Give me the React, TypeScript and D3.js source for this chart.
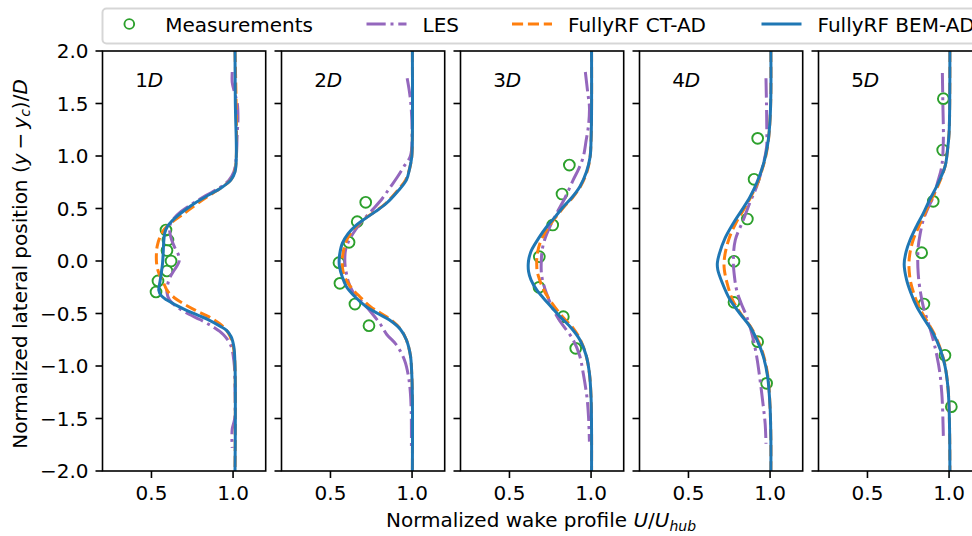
import React from "react";
import * as d3 from "d3";

// ---------- data: [y/D, U/Uhub] ----------
const panelLabels = ["1", "2", "3", "4", "5"];
const xTicks = [0.5, 1.0];
const yTicks = [2.0, 1.5, 1.0, 0.5, 0.0, -0.5, -1.0, -1.5, -2.0];
const legendLabels = ["Measurements", "LES", "FullyRF CT-AD", "FullyRF BEM-AD"];

const meas1D: [number, number][] = [[0.295, 0.589], [0.2, 0.601], [0.1, 0.595], [0.0, 0.62], [-0.095, 0.595], [-0.19, 0.54], [-0.295, 0.528]];
const meas2D: [number, number][] = [[0.559, 0.716], [0.375, 0.664], [0.178, 0.614], [-0.016, 0.552], [-0.213, 0.558], [-0.41, 0.65], [-0.616, 0.736]];
const meas3D: [number, number][] = [[0.914, 0.867], [0.638, 0.822], [0.343, 0.765], [0.041, 0.683], [-0.251, 0.681], [-0.53, 0.83], [-0.832, 0.906]];
const meas4D: [number, number][] = [[1.168, 0.924], [0.778, 0.902], [0.4, 0.861], [-0.003, 0.779], [-0.394, 0.779], [-0.768, 0.924], [-1.165, 0.979]];
const meas5D: [number, number][] = [[1.546, 0.965], [1.057, 0.961], [0.568, 0.903], [0.079, 0.832], [-0.41, 0.846], [-0.898, 0.975], [-1.387, 1.014]];

const les1D: [number, number][] = [[1.8, 0.995], [1.7, 0.995], [1.6, 1.01], [1.5, 1.026], [1.35, 1.03], [1.2, 1.025], [1.0, 1.02], [0.85, 1.005], [0.77, 0.975], [0.7, 0.92], [0.62, 0.83], [0.54, 0.745], [0.47, 0.68], [0.41, 0.64], [0.35, 0.615], [0.28, 0.612], [0.2, 0.624], [0.12, 0.645], [0.06, 0.665], [0.0, 0.67], [-0.05, 0.655], [-0.1, 0.634], [-0.16, 0.612], [-0.22, 0.6], [-0.3, 0.595], [-0.37, 0.61], [-0.43, 0.65], [-0.49, 0.71], [-0.56, 0.8], [-0.63, 0.88], [-0.7, 0.94], [-0.8, 0.985], [-0.95, 1.005], [-1.2, 1.012], [-1.5, 1.01], [-1.6, 0.995], [-1.7, 0.993], [-1.78, 0.995]];
const les2D: [number, number][] = [[1.74, 0.97], [1.6, 0.985], [1.45, 0.995], [1.2, 1.0], [1.0, 0.99], [0.9, 0.95], [0.8, 0.91], [0.7, 0.865], [0.6, 0.82], [0.5, 0.765], [0.4, 0.705], [0.3, 0.655], [0.2, 0.615], [0.1, 0.592], [0.0, 0.588], [-0.05, 0.59], [-0.12, 0.598], [-0.2, 0.61], [-0.3, 0.64], [-0.4, 0.7], [-0.5, 0.755], [-0.6, 0.805], [-0.7, 0.845], [-0.8, 0.905], [-0.95, 0.955], [-1.1, 0.978], [-1.26, 0.99], [-1.45, 0.995], [-1.6, 0.996], [-1.8, 0.996]];
const les3D: [number, number][] = [[1.8, 0.965], [1.6, 0.98], [1.47, 0.99], [1.3, 0.985], [1.15, 0.97], [0.99, 0.952], [0.88, 0.925], [0.77, 0.89], [0.6, 0.84], [0.454, 0.789], [0.327, 0.748], [0.2, 0.715], [0.1, 0.7], [0.0, 0.695], [-0.1, 0.695], [-0.2, 0.705], [-0.3, 0.725], [-0.4, 0.75], [-0.55, 0.8], [-0.75, 0.89], [-0.9, 0.93], [-1.07, 0.952], [-1.3, 0.975], [-1.5, 0.985], [-1.72, 0.99]];
const les4D: [number, number][] = [[1.74, 0.975], [1.5, 0.978], [1.25, 0.98], [1.09, 0.979], [0.9, 0.955], [0.71, 0.918], [0.55, 0.875], [0.39, 0.836], [0.2, 0.787], [0.0, 0.775], [-0.15, 0.782], [-0.276, 0.795], [-0.4, 0.822], [-0.53, 0.857], [-0.7, 0.89], [-0.91, 0.918], [-1.15, 0.94], [-1.39, 0.959], [-1.55, 0.97], [-1.74, 0.975]];
const les5D: [number, number][] = [[1.79, 0.959], [1.5, 0.962], [1.15, 0.965], [0.9, 0.955], [0.75, 0.93], [0.61, 0.903], [0.5, 0.87], [0.39, 0.842], [0.25, 0.822], [0.136, 0.811], [0.0, 0.808], [-0.12, 0.811], [-0.25, 0.82], [-0.435, 0.842], [-0.6, 0.875], [-0.752, 0.903], [-0.9, 0.925], [-1.07, 0.944], [-1.25, 0.955], [-1.39, 0.96], [-1.55, 0.963], [-1.67, 0.965]];

const ct1D: [number, number][] = [[2.0, 1.012], [1.0, 1.02], [0.85, 1.01], [0.77, 0.985], [0.7, 0.93], [0.6, 0.83], [0.5, 0.74], [0.43, 0.68], [0.37, 0.625], [0.3, 0.578], [0.22, 0.55], [0.14, 0.535], [0.05, 0.53], [-0.03, 0.532], [-0.1, 0.542], [-0.17, 0.56], [-0.23, 0.58], [-0.29, 0.6], [-0.35, 0.64], [-0.41, 0.7], [-0.47, 0.77], [-0.53, 0.85], [-0.6, 0.92], [-0.67, 0.965], [-0.75, 0.99], [-0.85, 1.005], [-1.0, 1.012], [-2.0, 1.012]];
const ct2D: [number, number][] = [[2.0, 1.002], [1.2, 1.002], [0.99, 0.998], [0.88, 0.985], [0.77, 0.96], [0.66, 0.905], [0.55, 0.84], [0.47, 0.772], [0.39, 0.7], [0.3, 0.64], [0.2, 0.6], [0.1, 0.58], [0.0, 0.572], [-0.08, 0.575], [-0.16, 0.59], [-0.25, 0.625], [-0.34, 0.68], [-0.435, 0.745], [-0.5, 0.81], [-0.56, 0.87], [-0.65, 0.93], [-0.75, 0.965], [-0.9, 0.99], [-1.07, 0.998], [-1.3, 1.002], [-2.0, 1.002]];
const ct3D: [number, number][] = [[2.0, 1.003], [1.4, 1.003], [1.15, 1.0], [0.99, 0.994], [0.85, 0.975], [0.71, 0.935], [0.6, 0.885], [0.517, 0.835], [0.42, 0.785], [0.327, 0.74], [0.22, 0.7], [0.105, 0.675], [0.03, 0.668], [-0.03, 0.667], [-0.1, 0.67], [-0.18, 0.685], [-0.276, 0.71], [-0.4, 0.76], [-0.53, 0.825], [-0.64, 0.89], [-0.752, 0.935], [-0.9, 0.97], [-1.07, 0.99], [-1.3, 1.0], [-1.6, 1.003], [-2.0, 1.003]];
const ct4D: [number, number][] = [[2.0, 1.005], [1.6, 1.005], [1.35, 1.0], [1.15, 0.99], [1.0, 0.974], [0.9, 0.957], [0.75, 0.925], [0.61, 0.882], [0.48, 0.835], [0.36, 0.79], [0.22, 0.75], [0.073, 0.725], [-0.02, 0.718], [-0.086, 0.72], [-0.2, 0.735], [-0.37, 0.77], [-0.5, 0.82], [-0.625, 0.88], [-0.77, 0.93], [-0.91, 0.962], [-1.1, 0.987], [-1.39, 1.0], [-1.7, 1.005], [-2.0, 1.005]];
const ct5D: [number, number][] = [[2.0, 1.005], [1.5, 1.004], [1.216, 1.0], [1.05, 0.99], [0.898, 0.975], [0.71, 0.93], [0.58, 0.89], [0.454, 0.852], [0.33, 0.815], [0.2, 0.78], [0.09, 0.762], [-0.03, 0.754], [-0.18, 0.762], [-0.3, 0.782], [-0.435, 0.815], [-0.56, 0.86], [-0.689, 0.908], [-0.85, 0.95], [-1.0, 0.976], [-1.2, 0.993], [-1.39, 1.0], [-1.7, 1.004], [-2.0, 1.005]];

const bem1D: [number, number][] = [[2.0, 1.012], [1.5, 1.014], [1.0, 1.02], [0.85, 1.012], [0.77, 0.986], [0.7, 0.93], [0.61, 0.83], [0.55, 0.765], [0.49, 0.71], [0.43, 0.66], [0.38, 0.625], [0.33, 0.598], [0.27, 0.582], [0.18, 0.575], [0.08, 0.572], [-0.02, 0.568], [-0.12, 0.56], [-0.2, 0.552], [-0.28, 0.545], [-0.33, 0.56], [-0.37, 0.592], [-0.42, 0.65], [-0.47, 0.715], [-0.52, 0.79], [-0.56, 0.85], [-0.62, 0.92], [-0.66, 0.96], [-0.72, 0.988], [-0.82, 1.005], [-1.0, 1.012], [-1.5, 1.014], [-2.0, 1.012]];
const bem2D: [number, number][] = [[2.0, 1.002], [1.2, 1.002], [0.99, 0.998], [0.88, 0.985], [0.77, 0.965], [0.66, 0.91], [0.55, 0.843], [0.47, 0.775], [0.39, 0.7], [0.33, 0.65], [0.26, 0.608], [0.17, 0.573], [0.07, 0.557], [0.0, 0.553], [-0.05, 0.555], [-0.15, 0.572], [-0.245, 0.598], [-0.34, 0.65], [-0.435, 0.72], [-0.5, 0.79], [-0.56, 0.86], [-0.65, 0.928], [-0.75, 0.965], [-0.9, 0.99], [-1.07, 0.998], [-1.3, 1.002], [-2.0, 1.002]];
const bem3D: [number, number][] = [[2.0, 1.003], [1.4, 1.003], [1.15, 1.0], [0.99, 0.994], [0.85, 0.972], [0.71, 0.932], [0.6, 0.88], [0.517, 0.83], [0.42, 0.78], [0.327, 0.728], [0.22, 0.68], [0.105, 0.636], [0.03, 0.62], [-0.03, 0.615], [-0.1, 0.617], [-0.18, 0.632], [-0.276, 0.667], [-0.4, 0.735], [-0.53, 0.81], [-0.64, 0.88], [-0.752, 0.932], [-0.9, 0.97], [-1.07, 0.99], [-1.3, 1.0], [-1.6, 1.003], [-2.0, 1.003]];
const bem4D: [number, number][] = [[2.0, 1.005], [1.6, 1.005], [1.35, 1.0], [1.15, 0.989], [1.0, 0.972], [0.9, 0.955], [0.75, 0.92], [0.61, 0.877], [0.48, 0.825], [0.36, 0.775], [0.22, 0.725], [0.073, 0.69], [-0.02, 0.677], [-0.086, 0.68], [-0.2, 0.705], [-0.37, 0.755], [-0.5, 0.815], [-0.625, 0.877], [-0.77, 0.925], [-0.91, 0.959], [-1.1, 0.985], [-1.39, 1.0], [-1.7, 1.005], [-2.0, 1.005]];
const bem5D: [number, number][] = [[2.0, 1.005], [1.5, 1.004], [1.216, 1.0], [1.05, 0.99], [0.898, 0.975], [0.71, 0.924], [0.58, 0.88], [0.454, 0.842], [0.33, 0.8], [0.2, 0.761], [0.09, 0.737], [-0.03, 0.725], [-0.18, 0.74], [-0.3, 0.765], [-0.435, 0.802], [-0.56, 0.85], [-0.689, 0.903], [-0.85, 0.948], [-1.0, 0.975], [-1.2, 0.993], [-1.39, 1.0], [-1.7, 1.004], [-2.0, 1.005]];

const measAll = [meas1D, meas2D, meas3D, meas4D, meas5D];
const lesAll = [les1D, les2D, les3D, les4D, les5D];
const ctAll = [ct1D, ct2D, ct3D, ct4D, ct5D];
const bemAll = [bem1D, bem2D, bem3D, bem4D, bem5D];

// ---------- styling / layout ----------
const W = 972, H = 536;
const FONT = "'DejaVu Sans', sans-serif";
const FS = 20;
const AX_LEFT0 = 102.5, AX_STEP = 179, AX_W = 163.2, AX_TOP = 51, AX_BOT = 471;
const C_MEAS = "#2ca02c", C_LES = "#9467bd", C_CT = "#ff7f0e", C_BEM = "#1f77b4";
const LW = 3;
const DASH_CT = "11.1 4.8";
const DASH_LES = "19.2 4.8 3 4.8";
const MR = 5.4;

const yScale = d3.scaleLinear().domain([-2, 2]).range([AX_BOT, AX_TOP]);
const fmtTick = (v: number) => d3.format(".1f")(v).replace("-", "\u2212");

function Panel({ i }: { i: number }) {
  const left = AX_LEFT0 + AX_STEP * i;
  const x = d3.scaleLinear().domain([0.2, 1.2]).range([left, left + AX_W]);
  const line = d3
    .line<[number, number]>()
    .x((d) => x(d[1]))
    .y((d) => yScale(d[0]))
    .curve(d3.curveCatmullRom.alpha(0.5));
  const clipId = `clip${i}`;
  return (
    <g>
      <defs>
        <clipPath id={clipId}>
          <rect x={left} y={AX_TOP} width={AX_W} height={AX_BOT - AX_TOP} />
        </clipPath>
      </defs>
      <g clipPath={`url(#${clipId})`}>
        {measAll[i].map((d, k) => (
          <circle key={k} cx={x(d[1])} cy={yScale(d[0])} r={MR} fill="none" stroke={C_MEAS} strokeWidth={1.9} />
        ))}
        <path d={line(lesAll[i]) || ""} fill="none" stroke={C_LES} strokeWidth={LW} strokeDasharray={DASH_LES} />
        <path d={line(ctAll[i]) || ""} fill="none" stroke={C_CT} strokeWidth={LW} strokeDasharray={DASH_CT} />
        <path d={line(bemAll[i]) || ""} fill="none" stroke={C_BEM} strokeWidth={LW} strokeLinejoin="round" />
      </g>
      <rect x={left} y={AX_TOP} width={AX_W} height={AX_BOT - AX_TOP} fill="none" stroke="#000" strokeWidth={1.6} />
      {xTicks.map((t) => (
        <g key={t}>
          <line x1={x(t)} x2={x(t)} y1={AX_BOT} y2={AX_BOT + 7} stroke="#000" strokeWidth={1.6} />
          <text x={x(t)} y={AX_BOT + 29} textAnchor="middle" fontSize={FS} fontFamily={FONT}>
            {fmtTick(t)}
          </text>
        </g>
      ))}
      {yTicks.map((t) => (
        <g key={t}>
          <line x1={left - 7} x2={left} y1={yScale(t)} y2={yScale(t)} stroke="#000" strokeWidth={1.6} />
          {i === 0 && (
            <text x={left - 14} y={yScale(t) + 7.3} textAnchor="end" fontSize={FS} fontFamily={FONT}>
              {fmtTick(t)}
            </text>
          )}
        </g>
      ))}
      <text x={left + AX_W * 0.2} y={87} fontSize={FS} fontFamily={FONT}>
        {panelLabels[i]}
        <tspan fontStyle="italic">D</tspan>
      </text>
    </g>
  );
}

function Legend() {
  const cy = 24;
  const handleX = [109.3, 366.5, 512, 761.5];
  const textX = handleX.map((h) => h + 56);
  return (
    <g>
      <rect x={102.5} y={8.5} width={920} height={35} rx={4} ry={4} fill="rgba(255,255,255,0.8)" stroke="rgba(204,204,204,0.8)" strokeWidth={2} />
      <circle cx={handleX[0] + 20} cy={cy} r={MR * 0.9} fill="none" stroke={C_MEAS} strokeWidth={1.9} />
      <line x1={handleX[1]} x2={handleX[1] + 40} y1={cy} y2={cy} stroke={C_LES} strokeWidth={LW} strokeDasharray={DASH_LES} />
      <line x1={handleX[2]} x2={handleX[2] + 40} y1={cy} y2={cy} stroke={C_CT} strokeWidth={LW} strokeDasharray={DASH_CT} />
      <line x1={handleX[3]} x2={handleX[3] + 40} y1={cy} y2={cy} stroke={C_BEM} strokeWidth={LW} />
      {legendLabels.map((l, k) => (
        <text key={l} x={textX[k]} y={31.5} fontSize={FS} fontFamily={FONT}>
          {l}
        </text>
      ))}
    </g>
  );
}

export default function App() {
  return (
    <svg width={W} height={H} viewBox={`0 0 ${W} ${H}`} style={{ position: "absolute", left: 0, top: 0, background: "#fff" }}>
      <rect x={0} y={0} width={W} height={H} fill="#fff" />
      {[0, 1, 2, 3, 4].map((i) => (
        <Panel key={i} i={i} />
      ))}
      <Legend />
      <text transform="translate(27,264) rotate(-90)" textAnchor="middle" fontSize={FS} fontFamily={FONT}>
        {"Normalized lateral position ("}
        <tspan fontStyle="italic">y</tspan>
        {"\u2009\u2212\u2009"}
        <tspan fontStyle="italic">y</tspan>
        <tspan fontStyle="italic" fontSize={14} dy={3}>c</tspan>
        <tspan dy={-3}>{")/"}</tspan>
        <tspan fontStyle="italic">D</tspan>
      </text>
      <text x={541} y={527} textAnchor="middle" fontSize={FS} fontFamily={FONT}>
        {"Normalized wake profile "}
        <tspan fontStyle="italic">U</tspan>
        {"/"}
        <tspan fontStyle="italic">U</tspan>
        <tspan fontStyle="italic" fontSize={14} dy={4}>hub</tspan>
      </text>
    </svg>
  );
}
